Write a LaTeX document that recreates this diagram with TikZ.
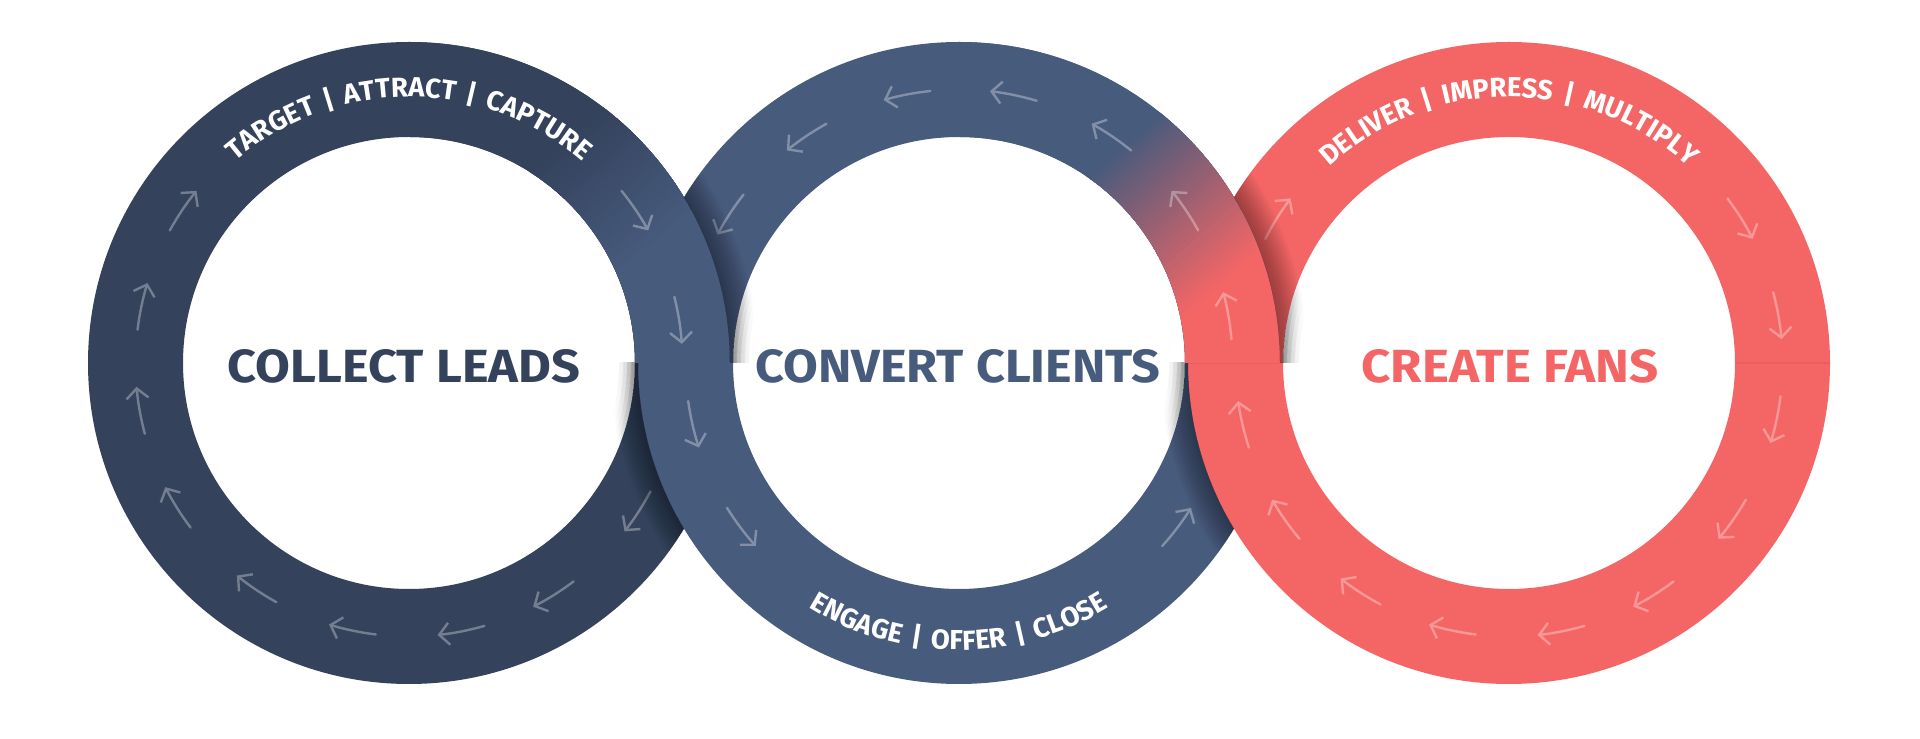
\documentclass[tikz,border=0pt]{standalone}
\usepackage{fontspec}
\setmainfont{Fira Sans}
\usepackage{graphicx}
\usetikzlibrary{calc,arrows.meta,decorations.text}
\definecolor{cNavy}{HTML}{34425C}
\definecolor{cSlate}{HTML}{475B7D}
\definecolor{cCoral}{HTML}{F46666}
\newcommand\Ro{321}
\newcommand\Ri{226}
\newcommand\Rm{273.5}
\tikzset{
  arw/.style={draw=white, line width=2.4pt, line cap=round, -{Straight Barb[length=10pt,width=22pt]}},
}
\newcommand\ringfont{\fontsize{27.5}{30}\selectfont\bfseries\color{white}}
\newcommand\sep{{\kern3.5pt\textbar\kern3.5pt}}
\newcommand\ringfill[2]{\fill[#2] ($(#1)+(\Ro,0)$) arc[start angle=0,end angle=360,radius=\Ro] -- ($(#1)+(\Ri,0)$) arc[start angle=360,end angle=0,radius=\Ri] -- cycle;}
\newcommand\ringclip[1]{\clip ($(#1)+(\Ro,0)$) arc[start angle=0,end angle=360,radius=\Ro] -- ($(#1)+(\Ri,0)$) arc[start angle=360,end angle=0,radius=\Ri] -- cycle;}
\newcommand\gradband[6]{%
  \begin{scope}[shift={(#1,#2)}, rotate=#3]
    \foreach \i in {0,...,39}{%
      \pgfmathtruncatemacro\pp{(\i+0.5)*2.5}%
      \fill[#6!\pp!#5] ({\i*#4/40},-900) rectangle ({(\i+1)*#4/40+1.5},900);
    }
    \fill[#6] (#4,-900) rectangle ({#4+1500},900);
  \end{scope}}
\newcommand\arrowCW[2]{%
  \pgfmathsetmacro\aS{#2+5}\pgfmathsetmacro\aE{#2-5}%
  \draw[arw] ($(#1)+(\aS:\Rm)$) arc[start angle=\aS, end angle=\aE, radius=\Rm];}
\newcommand\arrowCCW[2]{%
  \pgfmathsetmacro\aS{#2-5}\pgfmathsetmacro\aE{#2+5}%
  \draw[arw] ($(#1)+(\aS:\Rm)$) arc[start angle=\aS, end angle=\aE, radius=\Rm];}
\newcommand\toptext[2]{\path[decorate, decoration={text along path, text align=center, text={|\ringfont|#2}}] ($(#1)+(165:266)$) arc[start angle=165,end angle=15,radius=266];}
\newcommand\bottext[2]{\path[decorate, decoration={text along path, text align=center, text={|\ringfont|#2}}] ($(#1)+(195:287)$) arc[start angle=195,end angle=345,radius=287];}
% soft shadow cast by ring #1 (on top) onto ring #2 (beneath), in half-plane #3
\newcommand\castshadow[3]{%
  \begin{scope}
    \clip (0,0) -- (1920,0) -- (1920,739) -- (0,739) -- cycle ($(#1)+(\Ro,0)$) arc[start angle=360,end angle=0,radius=\Ro];
    \clip #3;
    \begin{scope}
      \ringclip{#2}
      \foreach \w in {4,8,...,56}{\draw[black, opacity=0.028, line width=\w pt] (#1) circle (\Ro);}
    \end{scope}
    \foreach \j in {1,...,4}{%
      \begin{scope}
        \pgfmathsetmacro\rrad{226-4*\j}
        \clip ($(#2)+(\Ri,0)$) arc[start angle=0,end angle=360,radius=\Ri] -- ($(#2)+(\rrad,0)$) arc[start angle=360,end angle=0,radius=\rrad] -- cycle;
        \foreach \w in {4,8,...,56}{\draw[black, opacity=0.007, line width=\w pt] (#1) circle (\Ro);}
      \end{scope}}
  \end{scope}}
% ---- the three rings ----
\newcommand\ringL{%
  \ringfill{L}{cNavy}
  \begin{scope}\ringclip{L}\clip (0,376) rectangle (1920,739);
    \gradband{565}{599}{-49.4}{138}{cNavy}{cSlate}
  \end{scope}
  \begin{scope}[transparency group, opacity=0.32]
    \foreach \a in {146,168,190,212,236,258,281,302,327,9,34}{\arrowCW{L}{\a}}
  \end{scope}
  \toptext{L}{TARGET \sep{} ATTRACT \sep{} CAPTURE}}
\newcommand\ringM{%
  \ringfill{M}{cSlate}
  \begin{scope}\ringclip{M}\clip (0,376) rectangle (1920,739);
    \gradband{1105}{579}{-48.5}{170}{cSlate}{cCoral}
  \end{scope}
  \begin{scope}[transparency group, opacity=0.32]
    \foreach \a in {10,34,56,78.5,101,124,147,193,217,323}{\arrowCCW{M}{\a}}
  \end{scope}
  \bottext{M}{ENGAGE \sep{} OFFER \sep{} CLOSE}}
\newcommand\ringR{%
  \ringfill{R}{cCoral}
  \begin{scope}\ringclip{R}
    \draw[cCoral!88!black, opacity=0.45, line width=1.2pt] (1100,376) -- (1900,376);
  \end{scope}
  \begin{scope}[transparency group, opacity=0.32]
    \foreach \a in {148,193,215,237,258,281,302,325,348,10,32}{\arrowCW{R}{\a}}
  \end{scope}
  \toptext{R}{DELIVER \sep{} IMPRESS \sep{} MULTIPLY}}
\begin{document}
\begin{tikzpicture}[x=1pt,y=1pt]
\useasboundingbox (0,0) rectangle (1920,739);
\fill[white] (0,0) rectangle (1920,739);
\coordinate (L) at (409,376);
\coordinate (M) at (959,376);
\coordinate (R) at (1509,376);
\ringL
\ringM
\castshadow{M}{L}{(0,0) rectangle (1920,376)}
\ringR
\castshadow{R}{M}{(0,0) rectangle (1920,376)}
\begin{scope}\clip (959,376) rectangle (1920,739); \ringM \end{scope}
\castshadow{M}{R}{(0,376) rectangle (1920,739)}
\begin{scope}\clip (409,376) rectangle (1920,739); \ringL \end{scope}
\castshadow{L}{M}{(0,376) rectangle (1920,739)}
\node[text=cNavy, inner sep=0] (hL) at ($(L)+(-5,-3.5)$) {\resizebox{352pt}{33pt}{\bfseries COLLECT LEADS}};
\node[text=cSlate, inner sep=0] (hM) at ($(M)+(-1,-3.5)$) {\resizebox{405pt}{33pt}{\bfseries CONVERT CLIENTS}};
\node[text=cCoral, inner sep=0] (hR) at ($(R)+(1,-3.5)$) {\resizebox{297pt}{33pt}{\bfseries CREATE FANS}};
\end{tikzpicture}
\end{document}
